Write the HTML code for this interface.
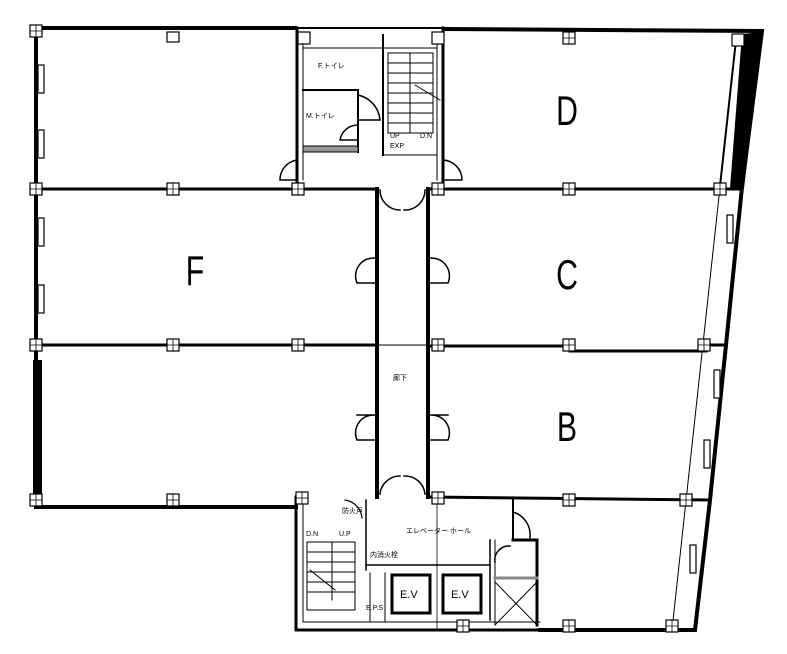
<!DOCTYPE html>
<html><head><meta charset="utf-8"><style>
html,body{margin:0;padding:0;background:#fff;}
svg{display:block;}
text{font-family:"Liberation Sans","Noto Sans CJK JP",sans-serif;}
</style></head><body>
<svg width="787" height="654" viewBox="0 0 787 654" xmlns="http://www.w3.org/2000/svg">
<rect width="787" height="654" fill="#fff"/>
<g stroke="#000" fill="none" stroke-linecap="square">
<polyline points="36,507 36,28 295,28" stroke-width="4"/>
<line x1="295" y1="28" x2="445" y2="28" stroke-width="2"/>
<polyline points="445,29 762,31 742,187 726,345 710,500 695,630 540,630" stroke-width="4"/>
<line x1="36" y1="507" x2="296" y2="507" stroke-width="4"/>
<polygon points="742,34 762,32 744,188 730,188" fill="#000" stroke="none"/>
<polygon points="33,360 42,360 42,495 33,495" fill="#000" stroke="none"/>
<line x1="736" y1="40" x2="720" y2="186" stroke-width="2"/>
<line x1="720" y1="187" x2="672" y2="630" stroke-width="1"/>
<line x1="36" y1="189" x2="377" y2="189" stroke-width="3"/>
<line x1="428" y1="189" x2="742" y2="189" stroke-width="3"/>
<line x1="36" y1="345" x2="377" y2="345" stroke-width="3"/>
<line x1="428" y1="346" x2="570" y2="346" stroke-width="3"/>
<line x1="570" y1="351" x2="706" y2="351" stroke-width="3"/>
<line x1="706" y1="345" x2="726" y2="345" stroke-width="3"/>
<line x1="428" y1="497" x2="710" y2="500" stroke-width="3"/>
<line x1="377" y1="189" x2="377" y2="497" stroke-width="4"/>
<line x1="428" y1="189" x2="428" y2="497" stroke-width="4"/>
<line x1="377" y1="345" x2="428" y2="345" stroke-width="1"/>
<line x1="297" y1="28" x2="297" y2="187" stroke-width="3"/>
<line x1="443" y1="28" x2="443" y2="187" stroke-width="3"/>
<line x1="303" y1="35" x2="303" y2="180" stroke-width="1"/>
<line x1="437" y1="35" x2="437" y2="180" stroke-width="1"/>
<line x1="303" y1="48" x2="437" y2="48" stroke-width="1"/>
<line x1="303" y1="90" x2="358" y2="90" stroke-width="2"/>
<line x1="358" y1="90" x2="358" y2="152" stroke-width="2"/>
<rect x="303" y="146" width="55" height="6" fill="#999" stroke-width="1"/>
<line x1="383" y1="35" x2="383" y2="155" stroke-width="2"/>
<rect x="388" y="53" width="45" height="80" stroke-width="1"/>
<g stroke-width="1">
<line x1="388" y1="63" x2="433" y2="63"/><line x1="388" y1="73" x2="433" y2="73"/>
<line x1="388" y1="83" x2="433" y2="83"/><line x1="388" y1="93" x2="433" y2="93"/>
<line x1="388" y1="103" x2="433" y2="103"/><line x1="388" y1="113" x2="433" y2="113"/>
<line x1="388" y1="123" x2="433" y2="123"/>
<line x1="410" y1="53" x2="410" y2="133"/>
<line x1="415" y1="85" x2="440" y2="100"/>
</g>
<line x1="383" y1="155" x2="437" y2="155" stroke-width="1"/>
<path d="M358,95 A28,28 0 0 1 380,120 L358,120" stroke-width="1.5"/>
<path d="M358,125 A18,18 0 0 0 340,140 L358,140" stroke-width="1.5"/>
<path d="M297,160 A20,20 0 0 0 280,180 L297,180" stroke-width="1.5"/>
<path d="M443,160 A20,20 0 0 1 462,180 L443,180" stroke-width="1.5"/>
<path d="M380,190 A20,20 0 0 0 400,210 M425,190 A20,20 0 0 1 404,210" stroke-width="1.5"/>
<path d="M380,494 A20,20 0 0 1 400,476 M425,494 A20,20 0 0 0 404,476" stroke-width="1.5"/>
<path d="M375,258 A18,18 0 0 0 357,283 L375,283" stroke-width="1.5"/>
<path d="M430,258 A18,18 0 0 1 448,283 L430,283" stroke-width="1.5"/>
<path d="M375,415 A18,18 0 0 0 357,440 L375,440 M375,415 L357,415" stroke-width="1.5"/>
<path d="M430,415 A18,18 0 0 1 448,440 L430,440 M430,415 L448,415" stroke-width="1.5"/>
<line x1="296" y1="497" x2="296" y2="630" stroke-width="3"/>
<line x1="296" y1="630" x2="540" y2="630" stroke-width="3"/>
<line x1="303" y1="505" x2="303" y2="622" stroke-width="1"/>
<line x1="303" y1="622" x2="540" y2="622" stroke-width="1"/>
<line x1="366" y1="500" x2="366" y2="570" stroke-width="1.5"/>
<line x1="366" y1="565" x2="490" y2="565" stroke-width="1.5"/>
<line x1="490" y1="540" x2="490" y2="620" stroke-width="1.5"/>
<line x1="437" y1="500" x2="437" y2="630" stroke-width="0.8"/>
<line x1="513" y1="500" x2="513" y2="540" stroke-width="2"/>
<polyline points="513,540 537,540 537,625" stroke-width="3"/>
<line x1="495" y1="540" x2="495" y2="625" stroke-width="1"/>
<line x1="495" y1="578" x2="537" y2="578" stroke="#888" stroke-width="3"/>
<line x1="495" y1="582" x2="537" y2="625" stroke-width="1"/>
<line x1="537" y1="582" x2="495" y2="625" stroke-width="1"/>
<path d="M513,512 A24,24 0 0 1 530,538" stroke-width="1.5"/>
<path d="M495,562 A14,14 0 0 1 510,546" stroke-width="1.5"/>
<rect x="392" y="575" width="38" height="38" stroke-width="3"/>
<rect x="443" y="575" width="38" height="38" stroke-width="3"/>
<line x1="370" y1="573" x2="370" y2="622" stroke-width="1"/>
<line x1="385" y1="573" x2="385" y2="622" stroke-width="1"/>
<rect x="307" y="542" width="48" height="68" stroke-width="1"/>
<g stroke-width="1">
<line x1="307" y1="552" x2="355" y2="552"/><line x1="307" y1="562" x2="355" y2="562"/>
<line x1="307" y1="572" x2="355" y2="572"/><line x1="307" y1="582" x2="355" y2="582"/>
<line x1="307" y1="592" x2="355" y2="592"/>
<line x1="332" y1="542" x2="332" y2="600"/>
<line x1="310" y1="570" x2="335" y2="590"/>
</g>
<path d="M345,500 A20,20 0 0 1 362,518" stroke-width="1.2"/>
</g>
<g fill="#fff" stroke="#000" stroke-width="1.2">
<rect x="30" y="25" width="12" height="12"/><rect x="30" y="183" width="12" height="12"/>
<rect x="30" y="339" width="12" height="12"/><rect x="30" y="494" width="12" height="12"/>
<rect x="167" y="32" width="12" height="10"/><rect x="167" y="183" width="12" height="12"/>
<rect x="167" y="339" width="12" height="12"/><rect x="167" y="494" width="12" height="12"/>
<rect x="292" y="183" width="12" height="12"/><rect x="292" y="339" width="12" height="12"/>
<rect x="296" y="492" width="12" height="12"/><rect x="298" y="32" width="12" height="12"/>
<rect x="432" y="183" width="12" height="12"/><rect x="432" y="339" width="12" height="12"/>
<rect x="432" y="492" width="12" height="12"/><rect x="432" y="32" width="12" height="12"/>
<rect x="563" y="32" width="12" height="12"/><rect x="563" y="183" width="12" height="12"/>
<rect x="563" y="339" width="12" height="12"/><rect x="563" y="494" width="12" height="12"/>
<rect x="732" y="34" width="12" height="12"/><rect x="714" y="183" width="12" height="12"/>
<rect x="698" y="339" width="12" height="12"/><rect x="680" y="494" width="12" height="12"/>
<rect x="563" y="620" width="12" height="12"/><rect x="666" y="620" width="12" height="12"/>
<rect x="457" y="620" width="12" height="12"/>
<rect x="38" y="65" width="6" height="28"/><rect x="38" y="130" width="6" height="28"/>
<rect x="38" y="218" width="6" height="28"/><rect x="38" y="285" width="6" height="28"/>
<rect x="727" y="215" width="6" height="28"/><rect x="714" y="370" width="6" height="28"/>
<rect x="704" y="440" width="6" height="28"/><rect x="690" y="545" width="6" height="28"/>
</g>
<g stroke="#000" stroke-width="0.8">
<path d="M36,25v12M30,31h12M36,183v12M30,189h12M36,339v12M30,345h12M36,494v12M30,500h12
M173,183v12M167,189h12M173,339v12M167,345h12M173,494v12M167,500h12
M298,183v12M292,189h12M298,339v12M292,345h12M302,492v12M296,498h12
M438,183v12M432,189h12M438,339v12M432,345h12M438,492v12M432,498h12
M569,32v12M563,38h12M569,183v12M563,189h12M569,339v12M563,345h12M569,494v12M563,500h12
M720,183v12M714,189h12M704,339v12M698,345h12M686,494v12M680,500h12
M569,620v12M563,626h12M672,620v12M666,626h12M463,620v12M457,626h12"/>
</g>
<g font-size="42" fill="#000" text-anchor="middle">
<text transform="translate(567,125) scale(0.72,1)">D</text>
<text transform="translate(567,289) scale(0.72,1)">C</text>
<text transform="translate(567,441) scale(0.72,1)">B</text>
<text transform="translate(195,285) scale(0.72,1)">F</text>
</g>
<g font-size="7" fill="#000">
<text x="318" y="68">F.トイレ</text>
<text x="306" y="118">M.トイレ</text>
<text x="390" y="138">UP</text><text x="420" y="138">D.N</text>
<text x="390" y="148">EXP</text>
<text x="393" y="380">廊下</text>
<text x="342" y="513">防火戸</text>
<text x="306" y="536">D.N</text><text x="339" y="536">U.P</text>
<text x="406" y="533">エレベーター ホール</text>
<text x="370" y="557">内消火栓</text>
<text x="366" y="610">E.P.S</text>
</g>
<g font-size="11" fill="#000"><text x="400" y="598">E.V</text><text x="451" y="598">E.V</text></g>
</svg>
</body></html>
